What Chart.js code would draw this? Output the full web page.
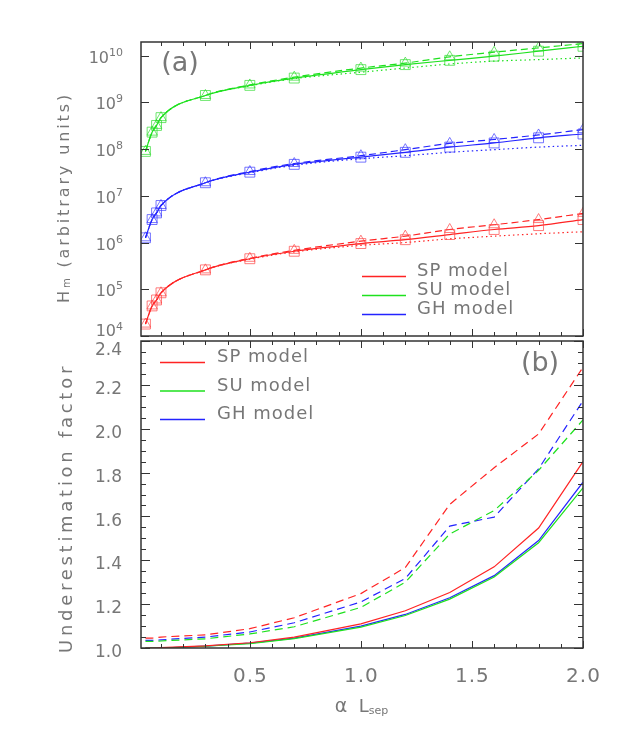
<!DOCTYPE html>
<html>
<head>
<meta charset="utf-8">
<script src="https://cdn.jsdelivr.net/npm/chart.js@4.4.0/dist/chart.umd.min.js"></script>
<style>
  body { margin: 0; background: #fff; }
  #wrap { position: relative; width: 627px; height: 736px; }
  canvas { position: absolute; left: 0; top: 0; }
</style>
</head>
<body>
<div id="wrap">
  <canvas id="topChart" width="627" height="736"></canvas>
  <canvas id="bottomChart" width="627" height="736"></canvas>
</div>
<script>
// alpha * L_sep sample positions (shared by both panels)
const xVals = [0.03, 0.06, 0.08, 0.1, 0.3, 0.5, 0.7, 1.0, 1.2, 1.4, 1.6, 1.8, 2.0];

// panel (a): H_m, solid / dashed / dotted for each model
const spSolid  = [1.8e4, 4.4e4, 5.9e4, 8.4e4, 2.6e5, 4.5e5, 6.5e5, 9.5e5, 1.15e6, 1.48e6, 1.9e6, 2.3e6, 3.1e6];
const spDashed = [1.8e4, 4.4e4, 5.9e4, 8.4e4, 2.6e5, 4.6e5, 6.8e5, 1.07e6, 1.37e6, 1.9e6, 2.4e6, 3.1e6, 4.2e6];
const spDotted = [1.8e4, 4.4e4, 5.9e4, 8.4e4, 2.6e5, 4.4e5, 6.3e5, 8.7e5, 1.0e6, 1.2e6, 1.37e6, 1.54e6, 1.7e6];

const suSolid  = [8.9e7, 2.3e8, 3.2e8, 4.7e8, 1.4e9, 2.3e9, 3.3e9, 5.0e9, 6.4e9, 7.9e9, 9.7e9, 1.24e10, 1.58e10];
const suDashed = [8.9e7, 2.3e8, 3.2e8, 4.7e8, 1.4e9, 2.35e9, 3.45e9, 5.4e9, 6.9e9, 9.4e9, 1.18e10, 1.46e10, 1.8e10];
const suDotted = [8.9e7, 2.3e8, 3.2e8, 4.7e8, 1.4e9, 2.25e9, 3.2e9, 4.4e9, 5.4e9, 6.6e9, 7.6e9, 8.2e9, 8.9e9];

const ghSolid  = [1.26e6, 3.1e6, 4.3e6, 6.2e6, 1.9e7, 3.2e7, 4.7e7, 6.7e7, 8.5e7, 1.1e8, 1.35e8, 1.74e8, 2.1e8];
const ghDashed = [1.26e6, 3.1e6, 4.3e6, 6.2e6, 1.9e7, 3.3e7, 4.9e7, 7.2e7, 9.7e7, 1.32e8, 1.6e8, 2.0e8, 2.6e8];
const ghDotted = [1.26e6, 3.1e6, 4.3e6, 6.2e6, 1.9e7, 3.1e7, 4.5e7, 6.2e7, 7.2e7, 8.5e7, 9.7e7, 1.1e8, 1.2e8];

// panel (b): underestimation factor
const spSolidF  = [1.0, 1.0, 1.0, 1.002, 1.01, 1.024, 1.05, 1.11, 1.17, 1.253, 1.37, 1.547, 1.85];
const spDashedF = [1.045, 1.045, 1.047, 1.05, 1.06, 1.088, 1.138, 1.248, 1.367, 1.655, 1.822, 1.976, 2.28];
const suSolidF  = [1.0, 1.0, 1.0, 1.0, 1.008, 1.02, 1.043, 1.095, 1.148, 1.223, 1.324, 1.48, 1.73];
const suDashedF = [1.03, 1.03, 1.031, 1.032, 1.042, 1.064, 1.097, 1.185, 1.3, 1.52, 1.627, 1.81, 2.04];
const ghSolidF  = [1.0, 1.0, 1.0, 1.0, 1.009, 1.022, 1.045, 1.1, 1.153, 1.229, 1.33, 1.49, 1.756];
const ghDashedF = [1.035, 1.035, 1.036, 1.037, 1.05, 1.073, 1.115, 1.21, 1.317, 1.556, 1.597, 1.817, 2.127];

// axes / labels
const xTickLabels = ['0.5', '1.0', '1.5', '2.0'];
const topExponents = [4, 5, 6, 7, 8, 9, 10];
const bottomTickLabels = ['1.0', '1.2', '1.4', '1.6', '1.8', '2.0', '2.2', '2.4'];
const modelNames = ['SP model', 'SU model', 'GH model'];

const RED = 'rgb(255,35,35)', GREEN = 'rgb(30,225,30)', BLUE = 'rgb(35,35,255)';
const RED_M = 'rgba(255,70,70,0.7)', GREEN_M = 'rgba(50,220,50,0.7)', BLUE_M = 'rgba(60,60,255,0.7)';
const FONT = '"DejaVu Sans", sans-serif';
const TEXT_COLOR = '#777';
const FRAME = '#333';

function pts(vals) {
    return xVals.map((x, i) => ({ x: x, y: vals[i] }));
}

function line(vals, color, dash, marker, markerColor, radius) {
    return {
        data: pts(vals),
        borderColor: color,
        borderWidth: 1.2,
        borderDash: dash,
        pointStyle: marker || 'circle',
        pointRadius: marker ? radius : 0,
        pointBorderColor: markerColor,
        pointBackgroundColor: 'rgba(0,0,0,0)',
        pointBorderWidth: 1,
        fill: false
    };
}

// text with sub/superscript parts
function drawRich(ctx, parts, x, y, align, spacing) {
    ctx.save();
    ctx.fillStyle = TEXT_COLOR;
    ctx.textAlign = 'left';
    ctx.textBaseline = 'alphabetic';
    const widths = parts.map(p => {
        ctx.font = p.size + 'px ' + FONT;
        ctx.letterSpacing = (spacing || 0) + 'px';
        return ctx.measureText(p.t).width;
    });
    const total = widths.reduce((a, b) => a + b, 0);
    let cx = align === 'right' ? x - total : align === 'center' ? x - total / 2 : x;
    parts.forEach((p, i) => {
        ctx.font = p.size + 'px ' + FONT;
        ctx.letterSpacing = (spacing || 0) + 'px';
        ctx.fillText(p.t, cx, y + (p.dy || 0));
        cx += widths[i];
    });
    ctx.restore();
}

function fitSpacing(ctx, parts, target) {
    ctx.save();
    ctx.letterSpacing = '0px';
    let w = 0, n = 0;
    parts.forEach(p => {
        ctx.font = p.size + 'px ' + FONT;
        w += ctx.measureText(p.t).width;
        n += p.t.length;
    });
    ctx.restore();
    return (target - w) / n;
}

function drawFrame(ctx, a) {
    ctx.save();
    ctx.strokeStyle = FRAME;
    ctx.lineWidth = 1.5;
    ctx.strokeRect(a.left, a.top, a.right - a.left, a.bottom - a.top);
    ctx.restore();
}

function tickLine(ctx, x1, y1, x2, y2) {
    ctx.beginPath();
    ctx.moveTo(x1, y1);
    ctx.lineTo(x2, y2);
    ctx.stroke();
}

function drawXTicks(ctx, a, xs) {
    ctx.save();
    ctx.strokeStyle = FRAME;
    ctx.lineWidth = 1;
    for (let i = 1; i <= 20; i++) {
        const v = i / 10;
        const px = Math.round(xs.getPixelForValue(v)) + 0.5;
        const len = (i % 5 === 0) ? 7 : 4;
        tickLine(ctx, px, a.top, px, a.top + len);
        tickLine(ctx, px, a.bottom, px, a.bottom - len);
    }
    ctx.restore();
}

function drawLegend(ctx, x0, x1, xt, ys, dy) {
    const cols = [RED, GREEN, BLUE];
    ctx.save();
    ctx.lineWidth = 1.4;
    modelNames.forEach((name, i) => {
        ctx.strokeStyle = cols[i];
        tickLine(ctx, x0, ys + dy * i + 0.5, x1, ys + dy * i + 0.5);
        drawRich(ctx, [{ t: name, size: 18 }], xt, ys + dy * i, 'left', 1);
    });
    ctx.restore();
}

const topAxes = {
    id: 'topAxes',
    afterDraw(chart) {
        const { ctx, chartArea: a, scales } = chart;
        const xs = scales.x, ys = scales.y;
        drawFrame(ctx, a);
        drawXTicks(ctx, a, xs);
        ctx.save();
        ctx.strokeStyle = FRAME;
        ctx.lineWidth = 1;
        topExponents.forEach(e => {
            const py = Math.round(ys.getPixelForValue(Math.pow(10, e))) + 0.5;
            tickLine(ctx, a.left, py, a.left + 8, py);
            tickLine(ctx, a.right, py, a.right - 8, py);
            const base = Math.min(py, 330) + 6;
            drawRich(ctx, [{ t: '10', size: 16 }, { t: String(e), size: 11, dy: -6.5 }], 123, base, 'right', 0);
        });
        ctx.restore();

        // legend and panel label
        drawLegend(ctx, 362, 406, 417, 276, 19);
        drawRich(ctx, [{ t: '(a)', size: 27 }], 180, 71, 'center', 0);

        // y title
        ctx.save();
        ctx.translate(69, 197.5);
        ctx.rotate(-Math.PI / 2);
        const parts = [{ t: 'H', size: 16 }, { t: 'm', size: 10, dy: 1 }, { t: ' (arbitrary units)', size: 16 }];
        drawRich(ctx, parts, 0, 0, 'center', fitSpacing(ctx, parts, 211));
        ctx.restore();
    }
};

const bottomAxes = {
    id: 'bottomAxes',
    afterDraw(chart) {
        const { ctx, chartArea: a, scales } = chart;
        const xs = scales.x, ys = scales.y;
        drawFrame(ctx, a);
        drawXTicks(ctx, a, xs);
        ctx.save();
        ctx.strokeStyle = FRAME;
        ctx.lineWidth = 1;
        for (let i = 0; i <= 28; i++) {
            const v = 1.0 + i * 0.05;
            const py = Math.round(ys.getPixelForValue(v)) + 0.5;
            const len = (i % 4 === 0) ? 9 : 5;
            tickLine(ctx, a.left, py, a.left + len, py);
            tickLine(ctx, a.right, py, a.right - len, py);
        }
        ctx.restore();

        bottomTickLabels.forEach(lab => {
            const py = ys.getPixelForValue(parseFloat(lab));
            const base = Math.min(Math.max(py + 3, 348.5), 653) + 6.2;
            drawRich(ctx, [{ t: lab, size: 17 }], 122, base, 'right', 0);
        });
        xTickLabels.forEach(lab => {
            const px = xs.getPixelForValue(parseFloat(lab));
            drawRich(ctx, [{ t: lab, size: 20 }], px + 0.5, 682, 'center', 1);
        });

        drawLegend(ctx, 160, 205, 217, 362, 28.5);
        drawRich(ctx, [{ t: '(b)', size: 27 }], 540, 371, 'center', 0);

        // x title
        drawRich(ctx, [{ t: '\u03b1', size: 19 }, { t: '  L', size: 18 }, { t: 'sep', size: 11, dy: 2.5 }], 361.5, 711.5, 'center', 0);

        // y title
        ctx.save();
        ctx.translate(72, 508);
        ctx.rotate(-Math.PI / 2);
        const parts = [{ t: 'Underestimation factor', size: 18 }];
        drawRich(ctx, parts, 0, 0, 'center', fitSpacing(ctx, parts, 290));
        ctx.restore();
    }
};

const xScale = { type: 'linear', min: 0.01, max: 2.0, display: false };

new Chart(document.getElementById('topChart'), {
    type: 'line',
    data: {
        datasets: [
            line(spSolid, RED, [], 'rect', RED_M, 7),
            line(spDashed, RED, [7, 4], 'triangle', RED_M, 6),
            line(spDotted, RED, [1.5, 3]),
            line(suSolid, GREEN, [], 'rect', GREEN_M, 7),
            line(suDashed, GREEN, [7, 4], 'triangle', GREEN_M, 6),
            line(suDotted, GREEN, [1.5, 3]),
            line(ghSolid, BLUE, [], 'rect', BLUE_M, 7),
            line(ghDashed, BLUE, [7, 4], 'triangle', BLUE_M, 6),
            line(ghDotted, BLUE, [1.5, 3])
        ]
    },
    options: {
        responsive: false,
        animation: false,
        events: [],
        cubicInterpolationMode: 'monotone',
        layout: { padding: { left: 141, right: 44, top: 42, bottom: 400 } },
        scales: {
            x: xScale,
            y: { type: 'logarithmic', min: 1e4, max: 1.95e10, display: false }
        },
        plugins: { legend: { display: false }, tooltip: { enabled: false } }
    },
    plugins: [topAxes]
});

new Chart(document.getElementById('bottomChart'), {
    type: 'line',
    data: {
        datasets: [
            line(spSolidF, RED, []),
            line(spDashedF, RED, [8, 5]),
            line(suSolidF, GREEN, []),
            line(suDashedF, GREEN, [8, 5]),
            line(ghSolidF, BLUE, []),
            line(ghDashedF, BLUE, [8, 5])
        ]
    },
    options: {
        responsive: false,
        animation: false,
        events: [],
        layout: { padding: { left: 141, right: 44, top: 341, bottom: 88 } },
        scales: {
            x: xScale,
            y: { type: 'linear', min: 1.0, max: 2.4, display: false }
        },
        plugins: { legend: { display: false }, tooltip: { enabled: false } }
    },
    plugins: [bottomAxes]
});
</script>
</body>
</html>
